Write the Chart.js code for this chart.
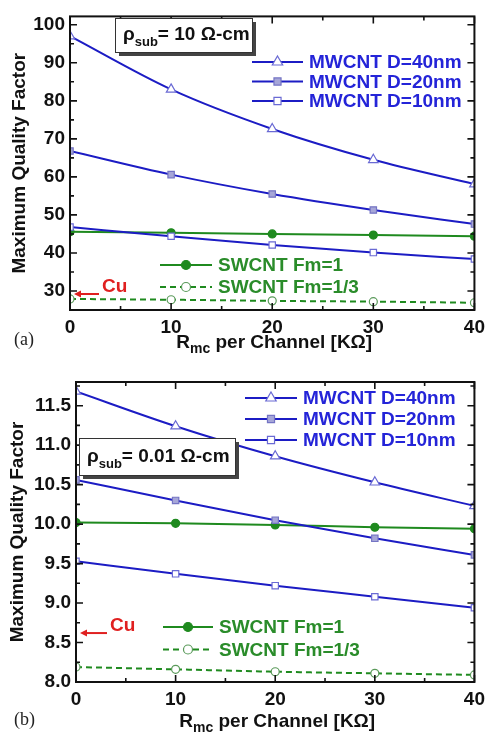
<!DOCTYPE html>
<html lang="en">
<head>
    <meta charset="UTF-8">
    <title>Maximum Quality Factor vs Rmc</title>
    <script src="https://cdn.jsdelivr.net/npm/chart.js"></script>
    <style>
        body {
            margin: 0;
            background: #fff;
            width: 491px;
            height: 732px;
            position: relative;
            overflow: hidden;
        }
        .panel {
            position: absolute;
            left: 0;
        }
    </style>
</head>
<body>
    <div class="panel" style="top:0"><canvas id="chartA" width="491" height="358"></canvas></div>
    <div class="panel" style="top:360px"><canvas id="chartB" width="491" height="372"></canvas></div>
    <script>
        // x values (Rmc per channel, kOhm)
        const rmc = [0, 10, 20, 30, 40];
        const xTicks = [0, 10, 20, 30, 40];

        const seriesNames = ['MWCNT D=40nm', 'MWCNT D=20nm', 'MWCNT D=10nm', 'SWCNT Fm=1', 'SWCNT Fm=1/3'];

        // panel (a): rho_sub = 10 ohm-cm
        const qA_mw40 = [97.0, 83.0, 72.6, 64.5, 58.1];
        const qA_mw20 = [66.8, 60.6, 55.5, 51.3, 47.6];
        const qA_mw10 = [46.8, 44.4, 42.1, 40.1, 38.4];
        const qA_sw1 = [45.6, 45.3, 45.0, 44.7, 44.4];
        const qA_sw13 = [27.9, 27.7, 27.4, 27.2, 26.9];
        const qA_cu = 29.2;
        const yTicksA = [30, 40, 50, 60, 70, 80, 90, 100];

        // panel (b): rho_sub = 0.01 ohm-cm
        const qB_mw40 = [11.68, 11.24, 10.86, 10.53, 10.23];
        const qB_mw20 = [10.56, 10.30, 10.05, 9.82, 9.61];
        const qB_mw10 = [9.53, 9.37, 9.22, 9.08, 8.94];
        const qB_sw1 = [10.02, 10.01, 9.99, 9.96, 9.94];
        const qB_sw13 = [8.19, 8.16, 8.13, 8.11, 8.09];
        const qB_cu = 8.62;
        const yTicksB = [8.0, 8.5, 9.0, 9.5, 10.0, 10.5, 11.0, 11.5];

        const BLUE = '#1c1cc4';
        const BLUE_TXT = '#2424d8';
        const GREEN = '#1f8a1f';
        const GREEN_TXT = '#2a8c2a';
        const FONT = '"Liberation Sans", Arial, sans-serif';

        function makeDatasets(mw40, mw20, mw10, sw1, sw13) {
            const base = { borderWidth: 2, cubicInterpolationMode: 'monotone', pointBorderWidth: 1.2 };
            return [
                { ...base, label: seriesNames[0], data: mw40, borderColor: BLUE, pointStyle: 'triangle', pointRadius: 5.5,
                  pointBackgroundColor: '#fff', pointBorderColor: '#6a6ad4' },
                { ...base, label: seriesNames[1], data: mw20, borderColor: BLUE, pointStyle: 'rect', pointRadius: 4.5,
                  pointBackgroundColor: '#a6a6d8', pointBorderColor: '#7474c4' },
                { ...base, label: seriesNames[2], data: mw10, borderColor: BLUE, pointStyle: 'rect', pointRadius: 4.5,
                  pointBackgroundColor: '#fff', pointBorderColor: '#6a6ad4' },
                { ...base, label: seriesNames[3], data: sw1, borderColor: GREEN, pointStyle: 'circle', pointRadius: 4,
                  pointBackgroundColor: GREEN, pointBorderColor: GREEN },
                { ...base, label: seriesNames[4], data: sw13, borderColor: GREEN, borderDash: [6, 4], pointStyle: 'circle',
                  pointRadius: 4, pointBackgroundColor: '#fff', pointBorderColor: '#5a9a5a' }
            ];
        }

        function drawSubText(ctx, x, y, parts) {
            // parts: [text, size, dy]
            ctx.textAlign = 'left';
            ctx.textBaseline = 'alphabetic';
            for (const [t, size, dy] of parts) {
                ctx.font = 'bold ' + size + 'px ' + FONT;
                ctx.fillText(t, x, y + dy);
                x += ctx.measureText(t).width;
            }
            return x;
        }

        function textWidth(ctx, parts) {
            let w = 0;
            for (const [t, size] of parts) {
                ctx.font = 'bold ' + size + 'px ' + FONT;
                w += ctx.measureText(t).width;
            }
            return w;
        }

        const decor = {
            id: 'decor',
            afterDatasetsDraw(chart, args, o) {
                const ctx = chart.ctx;
                const a = chart.chartArea;
                const xs = chart.scales.x, ys = chart.scales.y;
                ctx.save();

                // frame
                ctx.strokeStyle = '#111';
                ctx.lineWidth = 2;
                ctx.strokeRect(a.left, a.top, a.right - a.left, a.bottom - a.top);

                // inward ticks on all sides
                ctx.lineWidth = 1.6;
                ctx.beginPath();
                for (let i = 0; i < xTicks.length; i++) {
                    const px = xs.getPixelForValue(xTicks[i]);
                    ctx.moveTo(px, a.bottom); ctx.lineTo(px, a.bottom - 7);
                    ctx.moveTo(px, a.top); ctx.lineTo(px, a.top + 7);
                    if (i < xTicks.length - 1) {
                        const pm = xs.getPixelForValue((xTicks[i] + xTicks[i + 1]) / 2);
                        ctx.moveTo(pm, a.bottom); ctx.lineTo(pm, a.bottom - 4);
                        ctx.moveTo(pm, a.top); ctx.lineTo(pm, a.top + 4);
                    }
                }
                const yt = o.yTicks;
                const step = yt[1] - yt[0];
                const ys0 = [yt[0] - step / 2, ...yt.flatMap(v => [v, v + step / 2])];
                ys0.forEach((v, i) => {
                    if (v < ys.min || v > ys.max) return;
                    const py = ys.getPixelForValue(v);
                    const major = yt.includes(v);
                    const len = major ? 7 : 4;
                    ctx.moveTo(a.left, py); ctx.lineTo(a.left + len, py);
                    ctx.moveTo(a.right, py); ctx.lineTo(a.right - len, py);
                });
                ctx.stroke();

                // legend groups
                ctx.setLineDash([]);
                for (const g of o.legend) {
                    g.items.forEach((idx, k) => {
                        const ds = chart.data.datasets[idx];
                        const y = g.y + k * g.dy;
                        ctx.strokeStyle = ds.borderColor;
                        ctx.lineWidth = 2;
                        ctx.setLineDash(ds.borderDash || []);
                        ctx.beginPath();
                        ctx.moveTo(g.x0, y); ctx.lineTo(g.x1, y);
                        ctx.stroke();
                        ctx.setLineDash([]);
                        ctx.fillStyle = ds.pointBackgroundColor;
                        ctx.strokeStyle = ds.pointBorderColor;
                        ctx.lineWidth = 1.2;
                        Chart.helpers.drawPoint(ctx, { pointStyle: ds.pointStyle, radius: ds.pointRadius + 0.5, rotation: 0, borderWidth: 1.2 },
                            (g.x0 + g.x1) / 2, y);
                        ctx.fillStyle = g.color;
                        ctx.font = 'bold 19px ' + FONT;
                        ctx.textAlign = 'left';
                        ctx.textBaseline = 'middle';
                        ctx.fillText(ds.label, g.x1 + 6, y + 1);
                    });
                }

                // rho box
                const r = o.rho;
                ctx.fillStyle = '#444';
                ctx.fillRect(r.x + 4, r.y + 4, r.w, r.h);
                ctx.fillStyle = '#fff';
                ctx.fillRect(r.x, r.y, r.w, r.h);
                ctx.strokeStyle = '#333';
                ctx.lineWidth = 1;
                ctx.strokeRect(r.x + 0.5, r.y + 0.5, r.w, r.h);
                ctx.fillStyle = '#111';
                drawSubText(ctx, r.x + 8, r.y + r.h / 2 + 5, [['\u03c1', 19, 0], ['sub', 13, 6], ['= ' + r.text, 19, 0]]);

                // Cu marker
                const cy = ys.getPixelForValue(o.cu.value);
                ctx.strokeStyle = '#e02020';
                ctx.fillStyle = '#e02020';
                ctx.lineWidth = 2;
                ctx.beginPath();
                ctx.moveTo(a.left + 10, cy); ctx.lineTo(o.cu.x1, cy);
                ctx.stroke();
                ctx.beginPath();
                ctx.moveTo(a.left + 4, cy); ctx.lineTo(a.left + 11, cy - 3.5); ctx.lineTo(a.left + 11, cy + 3.5);
                ctx.closePath(); ctx.fill();
                ctx.font = 'bold 19px ' + FONT;
                ctx.textAlign = 'left';
                ctx.textBaseline = 'alphabetic';
                ctx.fillText('Cu', o.cu.x1 + 3, cy - 2);

                // y title
                ctx.fillStyle = '#111';
                ctx.save();
                ctx.translate(o.yTitleX, (a.top + a.bottom) / 2);
                ctx.rotate(-Math.PI / 2);
                ctx.font = 'bold 19px ' + FONT;
                ctx.textAlign = 'center';
                ctx.textBaseline = 'middle';
                ctx.fillText('Maximum Quality Factor', 0, 0);
                ctx.restore();

                // x title with subscript
                const parts = [['R', 19, 0], ['mc', 14, 5], [' per Channel [K\u03a9]', 19, 0]];
                const w = textWidth(ctx, parts);
                drawSubText(ctx, (a.left + a.right) / 2 - w / 2 + 2, o.xTitleY, parts);

                // panel label
                ctx.font = '18px "Liberation Serif", "DejaVu Serif", serif';
                ctx.fillStyle = '#222';
                ctx.textAlign = 'left';
                ctx.fillText(o.panel, 14, o.panelY);

                ctx.restore();
            }
        };

        function makeChart(id, datasets, yMin, yMax, yTicks, pad, yWidth, xHeight, decorOpts) {
            return new Chart(document.getElementById(id), {
                type: 'line',
                data: { labels: rmc, datasets: datasets },
                options: {
                    responsive: false,
                    animation: false,
                    layout: { padding: pad },
                    plugins: { legend: { display: false }, tooltip: { enabled: false }, decor: decorOpts },
                    scales: {
                        x: {
                            type: 'linear', min: 0, max: 40,
                            afterBuildTicks: s => { s.ticks = xTicks.map(v => ({ value: v })); },
                            afterFit: s => { s.height = xHeight; },
                            grid: { display: false, drawTicks: false },
                            border: { display: false },
                            ticks: { color: '#111', padding: 6, font: { family: FONT, size: 19, weight: 'bold' } }
                        },
                        y: {
                            min: yMin, max: yMax,
                            afterBuildTicks: s => { s.ticks = yTicks.map(v => ({ value: v })); },
                            afterFit: s => { s.width = yWidth; },
                            grid: { display: false, drawTicks: false },
                            border: { display: false },
                            ticks: {
                                color: '#111', padding: 5, font: { family: FONT, size: 19, weight: 'bold' },
                                callback: v => (yTicks[1] - yTicks[0] < 1 ? v.toFixed(1) : v)
                            }
                        }
                    }
                },
                plugins: [decor]
            });
        }

        makeChart('chartA', makeDatasets(qA_mw40, qA_mw20, qA_mw10, qA_sw1, qA_sw13), 25, 102.2, yTicksA,
            { left: 0, right: 11, top: 10, bottom: 0 }, 70, 48, {
                yTicks: yTicksA,
                legend: [
                    { items: [0, 1, 2], x0: 252, x1: 303, y: 62, dy: 19.5, color: BLUE_TXT },
                    { items: [3, 4], x0: 160, x1: 212, y: 265, dy: 22, color: GREEN_TXT }
                ],
                rho: { x: 115, y: 18, w: 137, h: 34, text: '10 \u03a9-cm' },
                cu: { value: qA_cu, x1: 99 },
                yTitleX: 20, xTitleY: 348, panel: '(a)', panelY: 345
            });

        makeChart('chartB', makeDatasets(qB_mw40, qB_mw20, qB_mw10, qB_sw1, qB_sw13), 8.0, 11.8, yTicksB,
            { left: 0, right: 13, top: 22, bottom: 0 }, 76, 50, {
                yTicks: yTicksB,
                legend: [
                    { items: [0, 1, 2], x0: 245, x1: 297, y: 38, dy: 21, color: BLUE_TXT },
                    { items: [3, 4], x0: 163, x1: 213, y: 267, dy: 22.5, color: GREEN_TXT }
                ],
                rho: { x: 79, y: 78, w: 156, h: 37, text: '0.01 \u03a9-cm' },
                cu: { value: qB_cu, x1: 107 },
                yTitleX: 18, xTitleY: 367, panel: '(b)', panelY: 365
            });
    </script>
</body>
</html>
